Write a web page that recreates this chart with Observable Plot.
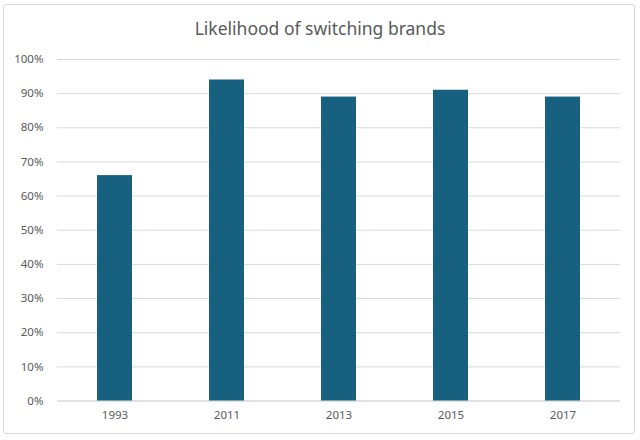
<!DOCTYPE html>
<html>
<head>
<meta charset="utf-8">
<script src="https://cdn.jsdelivr.net/npm/d3@7"></script>
<script src="https://cdn.jsdelivr.net/npm/@observablehq/plot@0.6"></script>
<style>
  body { margin: 0; background: #fff; }
  #wrap { position: relative; width: 640px; height: 440px; overflow: hidden; font-family: "Noto Sans", sans-serif; }
  #frame { position: absolute; left: 3px; top: 4px; width: 632px; height: 430px; border: 1px solid #d9d9d9; border-radius: 3px; box-sizing: border-box; }
  #title { position: absolute; left: 0; top: 0; width: 640px; height: 40px; line-height: 40px; padding-top: 8px; box-sizing: content-box; text-align: center; font-size: 17.5px; color: #595959; }
  #chart { position: absolute; left: 0; top: 40px; }
</style>
</head>
<body>
<div id="wrap">
  <div id="frame"></div>
  <div id="title">Likelihood of switching brands</div>
  <div id="chart"></div>
</div>
<script>
const years = ["1993", "2011", "2013", "2015", "2017"];
const shares = [0.66, 0.94, 0.89, 0.91, 0.89];
const yTicks = [0, 0.1, 0.2, 0.3, 0.4, 0.5, 0.6, 0.7, 0.8, 0.9, 1.0];

const data = years.map((y, i) => ({year: y, value: shares[i]}));

const plot = Plot.plot({
  width: 640,
  height: 400,
  marginTop: 19,
  marginBottom: 39.5,
  marginLeft: 57,
  marginRight: 20,
  style: {fontFamily: "Noto Sans, sans-serif", fontSize: "11.5px", color: "#595959", background: "transparent"},
  x: {domain: years, paddingInner: 0.69, paddingOuter: 0.345, label: null, tickSize: 0, tickPadding: 10},
  y: {domain: [0, 1], ticks: yTicks, tickFormat: d3.format(".0%"), label: null, tickSize: 0, tickPadding: 14},
  marks: [
    Plot.ruleY(yTicks.slice(1), {stroke: "#d9d9d9", strokeWidth: 1}),
    Plot.ruleY([0], {stroke: "#d9d9d9", strokeWidth: 1.5}),
    Plot.barY(data, {x: "year", y: "value", fill: "#17607f"})
  ]
});
document.getElementById("chart").appendChild(plot);
</script>
</body>
</html>
